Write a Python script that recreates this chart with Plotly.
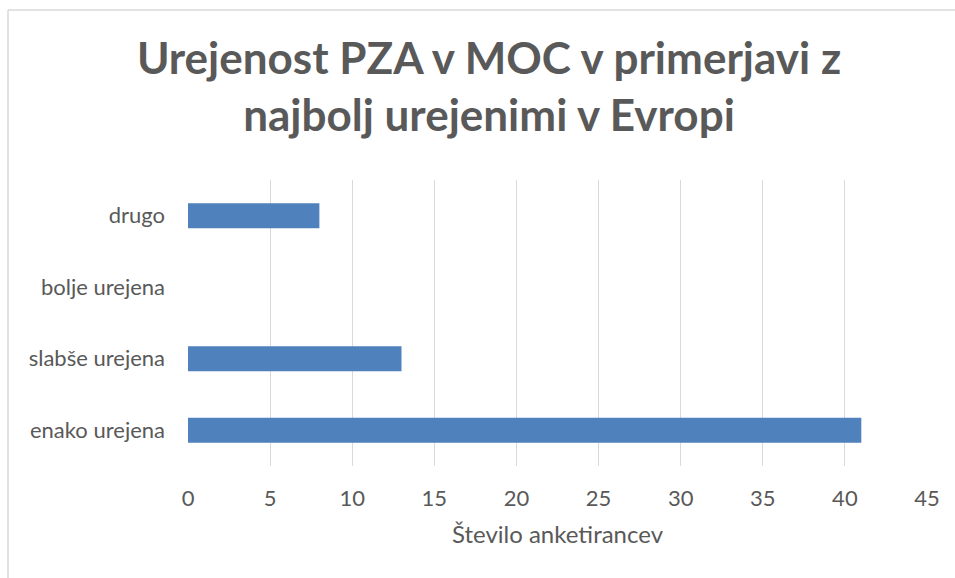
import plotly.graph_objects as go

categories = ["enako urejena", "slabše urejena", "bolje urejena", "drugo"]
values = [41, 13, 0, 8]
x_ticks = [0, 5, 10, 15, 20, 25, 30, 35, 40, 45]

title_text = "<b>Urejenost PZA v MOC v primerjavi z<br>najbolj urejenimi v Evropi</b>"
x_title = "Število anketirancev"

FONT = "Lato, Open Sans, sans-serif"
TXT = "#595959"

fig = go.Figure()
fig.add_trace(go.Bar(
    y=categories, x=values, orientation="h",
    marker=dict(color="#4F81BD", line=dict(width=0)),
    width=0.35,
))

L, R, T, B = 188, 28, 180, 112
W, H = 955, 578
pw = W - L - R
ph = H - T - B

fig.update_layout(
    width=W, height=H,
    margin=dict(l=L, r=R, t=T, b=B, pad=0),
    paper_bgcolor="white", plot_bgcolor="white",
    showlegend=False,
    font=dict(family=FONT, color=TXT, size=22),
    title=dict(text=title_text, x=489 / W, xanchor="center", xref="container",
               y=1 - 74 / H, yanchor="middle",
               font=dict(family=FONT, size=44, color=TXT)),
    xaxis=dict(range=[0, 45], tickvals=x_ticks, showgrid=True,
               gridcolor="#D9D9D9", gridwidth=1, zeroline=False,
               showline=False, ticks="", ticklabelstandoff=17,
               tickfont=dict(size=22, color=TXT),
               title=dict(text=x_title, standoff=16, font=dict(size=24, color=TXT))),
    yaxis=dict(categoryorder="array", categoryarray=categories,
               showgrid=False, zeroline=False, showline=False, ticks="",
               ticklabelstandoff=22, tickfont=dict(size=22, color=TXT)),
    shapes=[
        dict(type="line", xref="paper", yref="paper",
             x0=(8 - L) / pw, x1=(W + 5 - L) / pw,
             y0=(H - B - 10) / ph, y1=(H - B - 10) / ph,
             line=dict(color="#D9D9D9", width=1.5)),
        dict(type="line", xref="paper", yref="paper",
             x0=(8 - L) / pw, x1=(8 - L) / pw,
             y0=(H - B - 10) / ph, y1=(H - B - H - 5) / ph,
             line=dict(color="#D9D9D9", width=1.5)),
    ],
)

fig.write_html("out.html", config={"displayModeBar": False},
               post_script="document.body.style.margin='0';")
